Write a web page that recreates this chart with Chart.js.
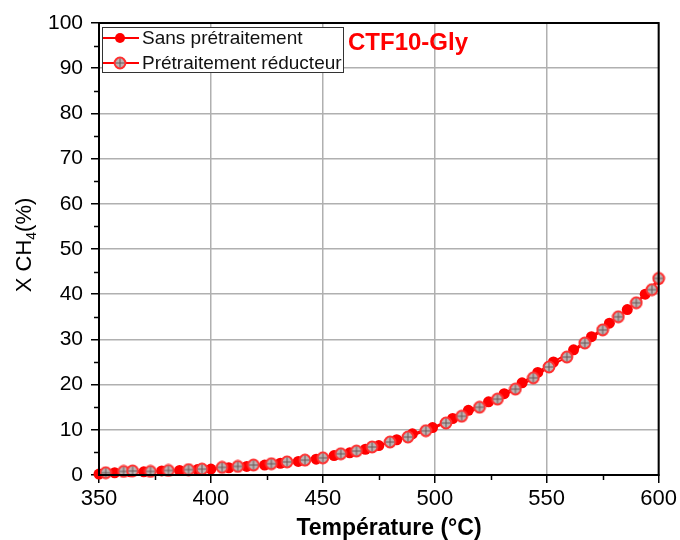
<!DOCTYPE html>
<html>
<head>
<meta charset="utf-8">
<script src="https://cdn.jsdelivr.net/npm/chart.js@4/dist/chart.umd.min.js"></script>
<style>
  html, body { margin: 0; padding: 0; background: #fff; }
  #wrap { width: 680px; height: 540px; }
</style>
</head>
<body>
<div id="wrap"><canvas id="grafico" width="680" height="540"></canvas></div>
<script>
// conversion du méthane en fonction de la température
var tempsSans = [350, 357, 364, 370, 378, 386, 394, 400, 408, 416, 424, 431, 439, 447, 455, 462, 469, 475, 483, 490, 499, 508, 515, 524, 531, 539, 546, 553, 562, 570, 578, 586, 594, 600];
var xSans = [0.2, 0.5, 0.7, 0.7, 0.9, 1.0, 1.2, 1.3, 1.6, 1.9, 2.2, 2.6, 3.0, 3.5, 4.3, 4.9, 5.7, 6.5, 7.8, 9.1, 10.5, 12.5, 14.3, 16.2, 18.0, 20.4, 22.7, 25.0, 27.7, 30.6, 33.6, 36.6, 40.0, 43.3];

var tempsReduit = [353, 361, 365, 373, 381, 390, 396, 405, 412, 419, 427, 434, 442, 450, 458, 465, 472, 480, 488, 496, 505, 512, 520, 528, 536, 544, 551, 559, 567, 575, 582, 590, 597, 600];
var xReduit = [0.5, 0.8, 0.9, 0.8, 1.0, 1.2, 1.3, 1.7, 1.9, 2.2, 2.5, 2.9, 3.3, 3.8, 4.7, 5.3, 6.2, 7.3, 8.4, 9.8, 11.5, 13.0, 15.0, 16.8, 19.0, 21.5, 23.9, 26.1, 29.2, 32.1, 35.0, 38.1, 41.0, 43.5];

var nomsSeries = ["Sans prétraitement", "Prétraitement réducteur"];
var titre = "CTF10-Gly";

var ticksX = [350, 400, 450, 500, 550, 600];
var ticksY = [0, 10, 20, 30, 40, 50, 60, 70, 80, 90, 100];

function points(xs, ys) {
    var res = [];
    for (let i = 0; i < xs.length; i++) {
        res.push({ x: xs[i], y: ys[i] });
    }
    return res;
}

// symbole cercle gris avec croix
function symboleCroix() {
    var c = document.createElement("canvas");
    c.width = 14; c.height = 14;
    var g = c.getContext("2d");
    g.beginPath();
    g.arc(7, 7, 5.4, 0, Math.PI * 2);
    g.fillStyle = "#bdb3b3";
    g.fill();
    g.lineWidth = 2;
    g.strokeStyle = "#ff3030";
    g.stroke();
    g.beginPath();
    g.moveTo(7, 2.5); g.lineTo(7, 11.5);
    g.moveTo(2.5, 7); g.lineTo(11.5, 7);
    g.lineWidth = 1;
    g.strokeStyle = "#6a5656";
    g.stroke();
    return c;
}
var croix = symboleCroix();

var police = "'Liberation Sans', Arial, sans-serif";

var decor = {
    id: "decor",
    afterDraw(chart) {
        var ctx = chart.ctx;
        var a = chart.chartArea;
        var sx = chart.scales.x, sy = chart.scales.y;
        ctx.save();

        // cadre
        ctx.strokeStyle = "#000";
        ctx.lineWidth = 2;
        ctx.strokeRect(a.left, a.top, a.right - a.left, a.bottom - a.top);

        // graduations secondaires
        ctx.lineWidth = 1.5;
        ctx.beginPath();
        for (let v = 5; v < 100; v += 10) {
            let py = Math.round(sy.getPixelForValue(v)) + 0.5;
            ctx.moveTo(a.left - 5, py); ctx.lineTo(a.left, py);
        }
        for (let v = 375; v < 600; v += 50) {
            let px = Math.round(sx.getPixelForValue(v)) + 0.5;
            ctx.moveTo(px, a.bottom); ctx.lineTo(px, a.bottom + 5);
        }
        ctx.stroke();

        // légende
        var lx = a.left + 3, ly = a.top + 4;
        ctx.fillStyle = "#fff";
        ctx.fillRect(lx, ly, 241, 45);
        ctx.strokeStyle = "#333";
        ctx.lineWidth = 1;
        ctx.strokeRect(lx + 0.5, ly + 0.5, 241, 45);
        ctx.font = "19px " + police;
        ctx.textBaseline = "middle";
        var lignes = [ly + 11, ly + 36];
        for (let i = 0; i < 2; i++) {
            let yy = lignes[i];
            ctx.strokeStyle = "#ff0000";
            ctx.lineWidth = 2;
            ctx.beginPath();
            ctx.moveTo(lx + 1, yy); ctx.lineTo(lx + 37, yy);
            ctx.stroke();
            if (i === 0) {
                ctx.fillStyle = "#ff0000";
                ctx.beginPath();
                ctx.arc(lx + 18, yy, 5, 0, Math.PI * 2);
                ctx.fill();
            } else {
                ctx.drawImage(croix, lx + 18 - 7, yy - 7);
            }
            ctx.fillStyle = "#111";
            ctx.textAlign = "left";
            ctx.fillText(nomsSeries[i], lx + 40, yy + 1);
        }

        // titre
        ctx.font = "bold 24px " + police;
        ctx.fillStyle = "#ff0000";
        ctx.textAlign = "left";
        ctx.textBaseline = "alphabetic";
        ctx.fillText(titre, a.left + 249, a.top + 27);

        // titre axe x
        ctx.font = "bold 23px " + police;
        ctx.fillStyle = "#000";
        ctx.textAlign = "center";
        ctx.fillText("Température (°C)", 389, 535);

        // titre axe y avec indice
        ctx.translate(31, 245);
        ctx.rotate(-Math.PI / 2);
        ctx.font = "22px " + police;
        var t1 = "X CH", t2 = "4", t3 = "(%)";
        var w1 = ctx.measureText(t1).width;
        var w3 = ctx.measureText(t3).width;
        ctx.font = "14px " + police;
        var w2 = ctx.measureText(t2).width;
        var x0 = -(w1 + w2 + w3) / 2;
        ctx.textAlign = "left";
        ctx.font = "22px " + police;
        ctx.fillText(t1, x0, 0);
        ctx.font = "14px " + police;
        ctx.fillText(t2, x0 + w1, 5);
        ctx.font = "22px " + police;
        ctx.fillText(t3, x0 + w1 + w2, 0);

        ctx.restore();
    }
};

new Chart(document.getElementById("grafico").getContext("2d"), {
    type: "scatter",
    data: {
        datasets: [{
            label: nomsSeries[0],
            data: points(tempsSans, xSans),
            order: 1,
            showLine: true,
            borderColor: "#ff0000",
            backgroundColor: "#ff0000",
            borderWidth: 2,
            pointRadius: 5.5,
            pointBorderWidth: 0,
            pointBackgroundColor: "#ff0000"
        }, {
            label: nomsSeries[1],
            data: points(tempsReduit, xReduit),
            order: 0,
            showLine: true,
            borderColor: "#ff0000",
            borderWidth: 2,
            pointStyle: croix
        }]
    },
    options: {
        responsive: false,
        animation: false,
        clip: false,
        layout: { padding: { top: 23, right: 21, left: 0, bottom: 0 } },
        plugins: {
            legend: { display: false },
            tooltip: { enabled: false }
        },
        scales: {
            x: {
                type: "linear",
                min: 350,
                max: 600,
                afterBuildTicks: function (s) { s.ticks = ticksX.map(v => ({ value: v })); },
                afterFit: function (s) { s.height = 65; },
                grid: { color: "#b0b0b0", lineWidth: 1.5, tickColor: "#000", tickLength: 8 },
                border: { color: "#000", width: 2 },
                ticks: { color: "#000", font: { size: 22, family: police }, padding: 3, maxRotation: 0 }
            },
            y: {
                min: 0,
                max: 100,
                afterBuildTicks: function (s) { s.ticks = ticksY.map(v => ({ value: v })); },
                afterFit: function (s) { s.width = 99; },
                grid: { color: "#b0b0b0", lineWidth: 1.5, tickColor: "#000", tickLength: 8 },
                border: { color: "#000", width: 2 },
                ticks: { color: "#000", font: { size: 21, family: police }, padding: 8 }
            }
        }
    },
    plugins: [decor]
});
</script>
</body>
</html>
